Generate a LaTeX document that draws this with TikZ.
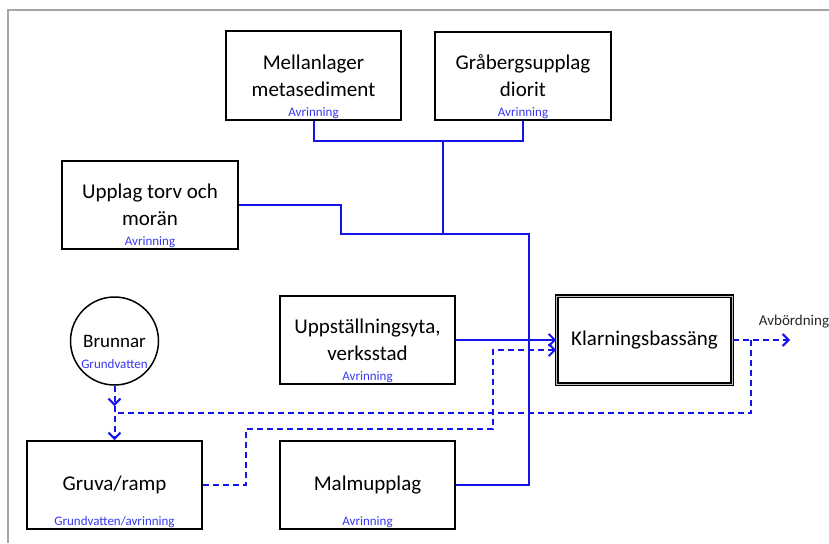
\documentclass[tikz,border=0pt]{standalone}
\usepackage{fontspec}
\setmainfont{Carlito}
\usetikzlibrary{positioning,arrows.meta}
\definecolor{flowblue}{RGB}{20,20,235}
\definecolor{noteblue}{RGB}{55,55,240}

\begin{document}
\begin{tikzpicture}[x=1pt, y=-1pt,
  box/.style={draw, line width=2pt, minimum width=175.5pt, minimum height=88pt,
    align=center, inner sep=0pt, font=\fontsize{21}{27}\selectfont},
  note/.style={text=noteblue, inner sep=1pt, font=\fontsize{13}{15}\selectfont},
  flow/.style={draw=flowblue, line width=2pt},
  seep/.style={flow, dash pattern=on 6pt off 4pt},
  flowtip/.style={-{Straight Barb[length=6pt,width=12pt]}}]
\useasboundingbox (0,0) rectangle (829,543);
\draw[gray!70, line width=2pt] (829,10) -- (8,10) -- (8,543);

% sources
\node[box] (mell) at (313.5,75.5) {Mellanlager\\metasediment};
\node[note, above=1pt of mell.south] (mellA) {Avrinning};
\node[box] (grab) at (523,76) {Gråbergsupplag\\diorit};
\node[note, above=1pt of grab.south] (grabA) {Avrinning};
\node[box] (torv) at (150,205) {Upplag torv och\\morän};
\node[note, above=1pt of torv.south] (torvA) {Avrinning};
\node[draw, circle, line width=1.5pt, minimum size=88pt, inner sep=0pt,
  font=\fontsize{19}{23}\selectfont] (brun) at (114.5,341) {Brunnar};
\node[note] (brunA) at ([yshift=-23pt]brun.center) {Grundvatten};
\node[box] (upp) at (367.5,340) {Uppställningsyta,\\verksstad};
\node[note, above=1pt of upp.south] (uppA) {Avrinning};
\node[box] (gruva) at (114.5,485) {Gruva/ramp};
\node[note, above=1pt of gruva.south] (gruvaA) {Grundvatten/avrinning};
\node[box] (malm) at (367.5,485) {Malmupplag};
\node[note, above=1pt of malm.south] (malmA) {Avrinning};

% basin
\node[box, line width=1.3pt, double=gray!50, double distance=1pt] (klar) at (644.5,340) {Klarningsbassäng};
\node[text=black!85, font=\fontsize{15}{18}\selectfont] (avb) at (794,322) {Avbördning};

% runoff
\coordinate (tj) at (443,140.5);
\coordinate (mj) at (443,234);
\coordinate (kn1) at (341,234);
\coordinate (kn2) at (529,234);
\draw[flow] (mell.south) |- (tj) -| (grab.south);
\draw[flow] (tj) -- (mj);
\draw[flow] (torv.east) -| (kn1) -- (kn2) |- (malm.east);
\draw[flow, flowtip] (upp) -- (klar);

% groundwater
\coordinate (g1) at (246,429);
\coordinate (g2) at (493,350);
\coordinate (b1) at (114.5,406);
\coordinate (bj) at (114.5,413);
\coordinate (rc) at (751,340);
\coordinate (ut) at (790,340);
\draw[seep, flowtip] (gruva.east) -| (g1) -| (g2) -- (g2 -| klar.west);
\draw[seep, flowtip] (brun.south) -- (b1);
\draw[seep, flowtip] (b1) -- (gruva.north);
\draw[seep, flowtip] (klar.east) -- (ut);
\draw[seep] (rc) |- (bj);
\end{tikzpicture}
\end{document}
